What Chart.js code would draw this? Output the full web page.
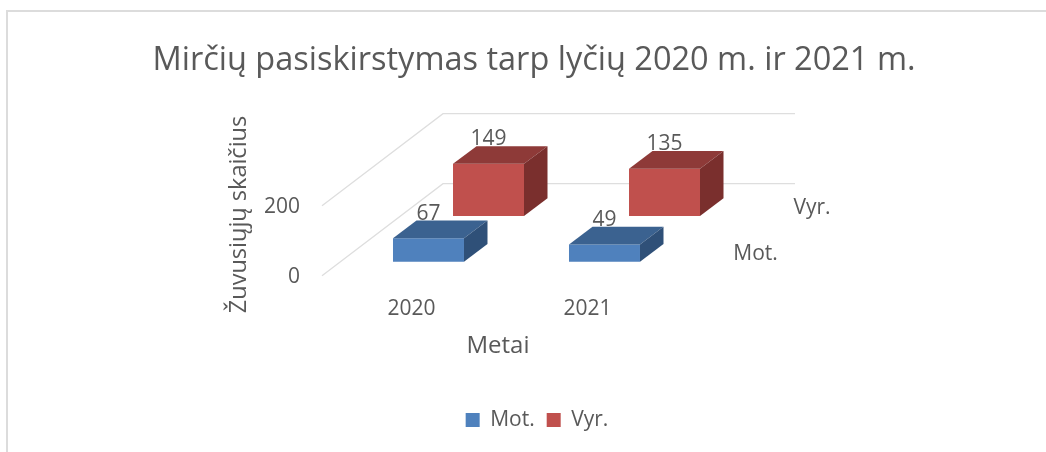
<!DOCTYPE html>
<html><head><meta charset="utf-8">
<script src="https://cdn.jsdelivr.net/npm/chart.js@4"></script>
<style>
html,body{margin:0;padding:0;background:#fff;overflow:hidden;width:1046px;height:452px}
#frame{position:absolute;left:6px;top:10px;right:0;bottom:0;border-left:2px solid #dcdcdc;border-top:2px solid #dcdcdc}
canvas{position:absolute;left:0;top:0;filter:blur(0.5px)}
</style></head><body>
<div id="frame"></div>
<canvas id="c" width="1046" height="452"></canvas>
<script>
const categories = ["2020", "2021"];
const seriesNames = ["Mot.", "Vyr."];
const motValues = [67, 49];
const vyrValues = [149, 135];
const wallTicks = [0, 200];
const chartTitle = "Mirčių pasiskirstymas tarp lyčių 2020 m. ir 2021 m.";
const xTitle = "Metai";
const yTitle = "Žuvusiųjų skaičius";

const FONT = "'Open Sans'";
const TXT = "#595959";
const MOT = {front:"#4f81bd", top:"#3b6290", side:"#2f5078"};
const VYR = {front:"#c0504d", top:"#8e3a38", side:"#7a2f2d"};
const PX_PER_UNIT = 0.35;
const BASE = {y:275.7, yMot:261.7, yVyr:216};
const DEPTH = {dx:23.5, dy:-17.7};

const bars3d = {
  id:"bars3d",
  beforeDatasetsDraw(chart){
    const c = chart.ctx, w = chart.scales.y;
    c.save(); c.strokeStyle = "#dedede"; c.lineWidth = 1.3;
    wallTicks.forEach(v=>{
      const p = w.getPixelForValue(v);
      c.beginPath(); c.moveTo(322,p); c.lineTo(443,p-92); c.lineTo(795,p-92); c.stroke();
    });
    c.restore();
  },
  afterDatasetsDraw(chart){
    const c = chart.ctx;
    c.save();
    chart.data.datasets.forEach((ds,i)=>{
      chart.getDatasetMeta(i).data.forEach((b,j)=>{
        const x0=b.x-b.width/2, x1=b.x+b.width/2, y=b.y, bs=b.base, {dx,dy}=DEPTH;
        c.fillStyle = ds.shade.top;
        c.beginPath(); c.moveTo(x0,y); c.lineTo(x1,y); c.lineTo(x1+dx,y+dy); c.lineTo(x0+dx,y+dy); c.closePath(); c.fill();
        c.fillStyle = ds.shade.side;
        c.beginPath(); c.moveTo(x1,y); c.lineTo(x1+dx,y+dy); c.lineTo(x1+dx,bs+dy); c.lineTo(x1,bs); c.closePath(); c.fill();
      });
    });
    c.fillStyle = TXT; c.textAlign="center"; c.textBaseline="middle";
    c.font = "21px "+FONT;
    chart.data.datasets.forEach((ds,i)=>{
      chart.getDatasetMeta(i).data.forEach((b,j)=>{
        c.fillText(String(ds.data[j]), b.x, b.y-24.5);
      });
    });
    c.fillText(seriesNames[0], 755.5, chart.scales.yMot.getPixelForValue(0)-7.5);
    c.fillText(seriesNames[1], 812, chart.scales.yVyr.getPixelForValue(0)-8);
    c.font = "24px "+FONT;
    c.fillText(xTitle, 498, 346);
    c.restore();
  }
};

const chart = new Chart(document.getElementById("c"),{
  type:"bar",
  plugins:[bars3d],
  data:{labels:categories,datasets:[
    {label:seriesNames[0],data:motValues,yAxisID:"yMot",backgroundColor:MOT.front,shade:MOT,borderWidth:0,categoryPercentage:0.682,barPercentage:1.183},
    {label:seriesNames[1],data:vyrValues,yAxisID:"yVyr",backgroundColor:VYR.front,shade:VYR,borderWidth:0,categoryPercentage:0.682,barPercentage:1.183}
  ]},
  options:{
    responsive:false,animation:false,
    layout:{padding:{left:40,right:12,top:0,bottom:11.5}},
    plugins:{
      tooltip:{enabled:false},
      title:{display:true,text:chartTitle,color:TXT,font:{family:FONT,size:32.5,weight:"normal"},padding:{top:41,bottom:53.5}},
      legend:{position:"bottom",labels:{color:TXT,font:{family:FONT,size:21},boxWidth:14,boxHeight:14,padding:12}}
    },
    scales:{
      x:{offset:true,grid:{display:false,drawTicks:false},border:{display:false},
        ticks:{color:TXT,font:{family:FONT,size:21},labelOffset:-47,padding:0.5,maxRotation:0,autoSkip:false},
        afterFit(s){s.height=102;}},
      y:{position:"left",min:-50,max:300,grid:{display:false,drawTicks:false},border:{display:false},
        ticks:{color:TXT,font:{family:FONT,size:21},padding:70.5,includeBounds:false,labelOffset:1.5},
        afterBuildTicks(s){s.ticks=wallTicks.map(v=>({value:v}));},
        title:{display:true,text:yTitle,color:TXT,font:{family:FONT,size:23.5},padding:{top:185,bottom:4}},
        afterFit(s){s.width=330.5;}},
      yMot:{display:false,min:-50,max:300},
      yVyr:{position:"right",min:-50,max:300,grid:{display:false,drawTicks:false},border:{display:false},
        ticks:{display:false},afterFit(s){s.width=311.5;}}
    }
  }
});
const titleBox = chart.titleBlock, drawTitle = titleBox.draw;
titleBox.draw = function(){
  const c = chart.ctx;
  c.save(); c.translate(-3,0);
  drawTitle.apply(this, arguments);
  c.restore();
};
const a = chart.chartArea;
["y","yMot","yVyr"].forEach(k=>{
  chart.options.scales[k].min=(BASE[k]-a.bottom)/PX_PER_UNIT;
  chart.options.scales[k].max=(BASE[k]-a.top)/PX_PER_UNIT;
});
chart.update("none");
</script>
</body></html>
